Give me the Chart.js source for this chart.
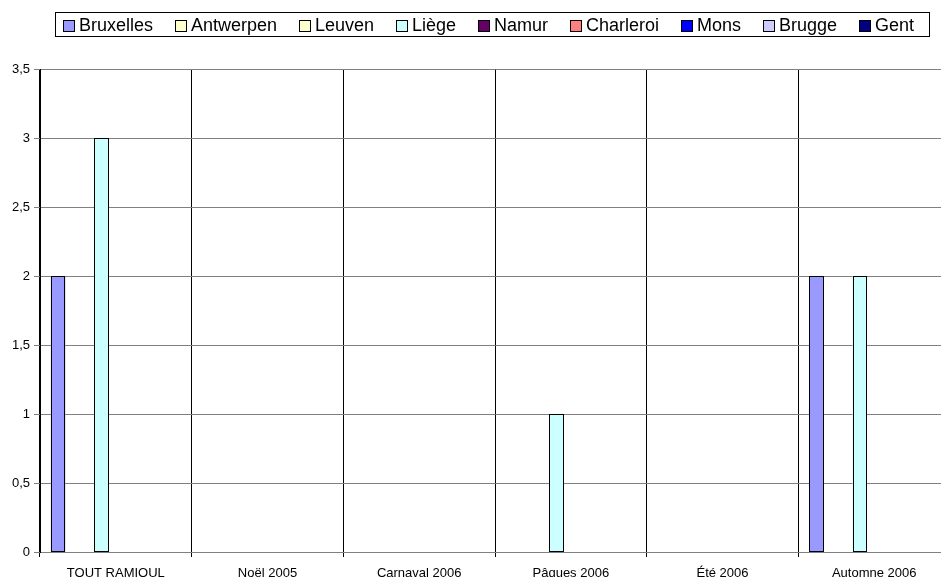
<!DOCTYPE html>
<html>
<head>
<meta charset="utf-8">
<script src="https://cdn.jsdelivr.net/npm/chart.js@4"></script>
<style>
  body { margin: 0; background: #fff; overflow: hidden; }
  #wrap { width: 950px; height: 577px; }
</style>
</head>
<body>
<div id="wrap"><canvas id="chart" width="950" height="577"></canvas></div>
<script>
const categories = ['TOUT RAMIOUL', 'Noël 2005', 'Carnaval 2006', 'Pâques 2006', 'Été 2006', 'Automne 2006'];
const seriesNames = ['Bruxelles', 'Antwerpen', 'Leuven', 'Liège', 'Namur', 'Charleroi', 'Mons', 'Brugge', 'Gent'];
const seriesColors = ['#9999FF', '#FFFFCC', '#FFFFCC', '#CCFFFF', '#660066', '#FF8080', '#0000FF', '#CCCCFF', '#000080'];

const bruxelles = [2, null, null, null, null, 2];
const antwerpen = [null, null, null, null, null, null];
const leuven    = [null, null, null, null, null, null];
const liege     = [3, null, null, 1, null, 2];
const namur     = [null, null, null, null, null, null];
const charleroi = [null, null, null, null, null, null];
const mons      = [null, null, null, null, null, null];
const brugge    = [null, null, null, null, null, null];
const gent      = [null, null, null, null, null, null];
const seriesValues = [bruxelles, antwerpen, leuven, liege, namur, charleroi, mons, brugge, gent];

const yMin = 0, yMax = 3.5, yStep = 0.5;
const FONT = 'Arial, "Liberation Sans", sans-serif';

// legend drawn by hand: boxed row of swatches like the Excel original
const boxLegend = {
  id: 'boxLegend',
  afterDraw(chart) {
    const ctx = chart.ctx;
    const left = 55, right = 929, top = 12, bottom = 36;
    const x0 = 63, x1 = 914, sw = 12, gapText = 4;
    ctx.save();
    ctx.font = '18px ' + FONT;
    const widths = seriesNames.map(n => ctx.measureText(n).width);
    const used = widths.reduce((a, b) => a + b, 0) + seriesNames.length * (sw + gapText);
    const gap = (x1 - x0 - used) / (seriesNames.length - 1);
    ctx.strokeStyle = '#000';
    ctx.lineWidth = 1;
    ctx.strokeRect(left + 0.5, top + 0.5, right - left, bottom - top);
    const cy = (top + bottom) / 2 + 2;
    let x = Math.round(x0);
    seriesNames.forEach((n, i) => {
      const bx = Math.round(x), by = Math.round(cy - sw / 2);
      ctx.fillStyle = seriesColors[i];
      ctx.fillRect(bx, by, sw, sw);
      ctx.strokeStyle = '#000';
      ctx.strokeRect(bx + 0.5, by + 0.5, sw - 1, sw - 1);
      ctx.fillStyle = '#000';
      ctx.textBaseline = 'middle';
      ctx.fillText(n, x + sw + gapText, cy);
      x += sw + gapText + widths[i] + gap;
    });
    ctx.restore();
  }
};

// crisp 1px outlines around the bars the library laid out
const crispBars = {
  id: 'crispBars',
  afterDatasetsDraw(chart) {
    const ctx = chart.ctx;
    ctx.save();
    ctx.strokeStyle = '#000';
    ctx.lineWidth = 1;
    chart.data.datasets.forEach((ds, i) => {
      chart.getDatasetMeta(i).data.forEach((bar, j) => {
        if (ds.data[j] == null) return;
        const l = Math.round(bar.x - bar.width / 2);
        const r = Math.round(bar.x + bar.width / 2);
        const t = Math.round(bar.y);
        const b = Math.round(bar.base);
        ctx.fillStyle = ds.backgroundColor;
        ctx.fillRect(l, t, r - l, b - t);
        ctx.strokeRect(l + 0.5, t + 0.5, r - l - 1, b - t - 1);
      });
    });
    ctx.restore();
  }
};

const whiteBg = {
  id: 'whiteBg',
  beforeDraw(chart) {
    const ctx = chart.ctx;
    ctx.save();
    ctx.fillStyle = '#fff';
    ctx.fillRect(0, 0, chart.width, chart.height);
    ctx.restore();
  }
};

new Chart(document.getElementById('chart'), {
  type: 'bar',
  data: {
    labels: categories,
    datasets: seriesNames.map((name, i) => ({
      label: name,
      data: seriesValues[i],
      backgroundColor: seriesColors[i],
      borderWidth: 0,
      categoryPercentage: 0.857,
      barPercentage: 1.0
    }))
  },
  options: {
    responsive: false,
    animation: false,
    layout: { padding: { top: 69, right: 0, bottom: 0, left: 0 } },
    plugins: {
      legend: { display: false },
      tooltip: { enabled: false }
    },
    scales: {
      x: {
        grid: { offset: true, color: '#000', lineWidth: 1, tickLength: 5, drawOnChartArea: true },
        border: { color: '#808080', width: 1 },
        ticks: { color: '#000', font: { family: FONT, size: 13 }, padding: 9, maxRotation: 0, autoSkip: false },
        afterFit(scale) { scale.height = 25; }
      },
      y: {
        min: yMin,
        max: yMax,
        grid: { color: '#808080', lineWidth: 1, tickLength: 6 },
        border: { color: '#000', width: 1 },
        ticks: {
          stepSize: yStep,
          color: '#000',
          padding: 4,
          font: { family: FONT, size: 13 },
          callback: v => String(v).replace('.', ',')
        },
        afterFit(scale) { scale.width = 40; }
      }
    }
  },
  plugins: [whiteBg, boxLegend, crispBars]
});
</script>
</body>
</html>
